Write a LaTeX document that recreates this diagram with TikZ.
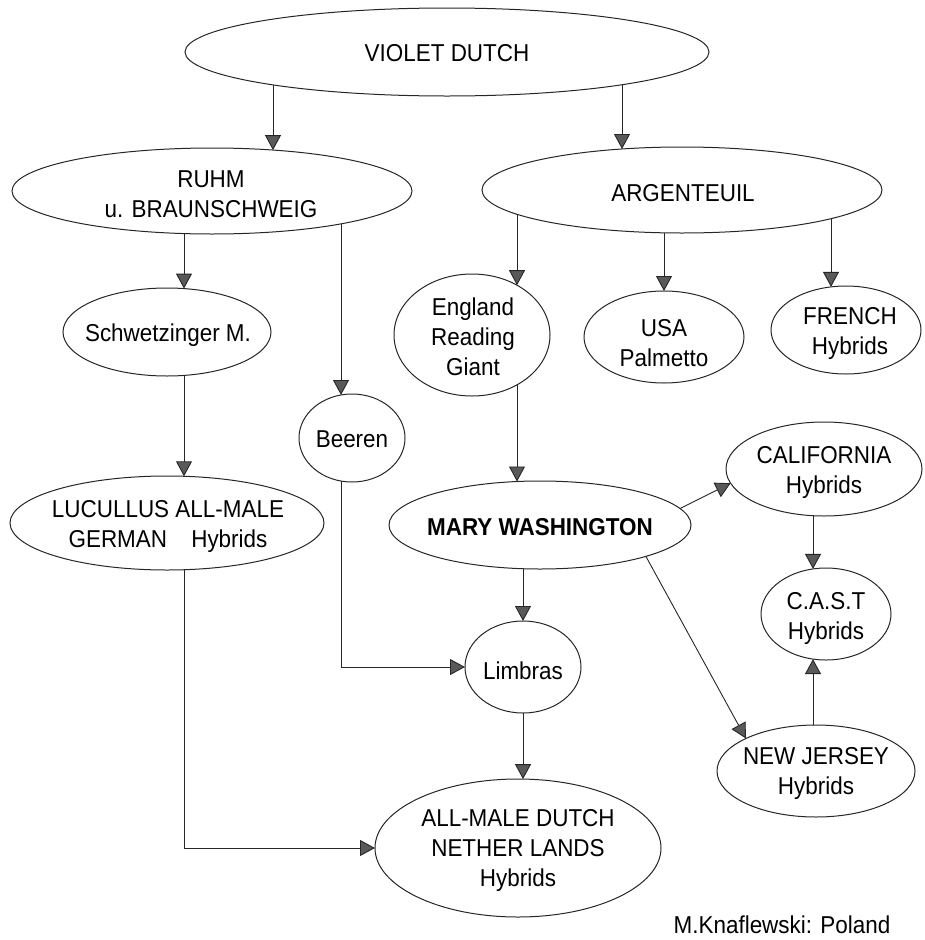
\documentclass[tikz,border=0pt]{standalone}
\usepackage{fontspec}
\setmainfont{Liberation Sans}[FakeStretch=0.92]
\usetikzlibrary{arrows.meta,shapes.geometric,calc}
\begin{document}
\begin{tikzpicture}[x=1pt,y=-1pt,
  ell/.style={draw=black!85, line width=1pt, ellipse, inner sep=0pt, outer sep=0pt},
  lbl/.style={font=\fontsize{24.4}{30}\selectfont, align=center, inner sep=0pt},
  arr/.style={draw=black!85, line width=0.9pt, -{Triangle[width=16pt,length=15pt,fill=black!65]}}]
\useasboundingbox (0,0) rectangle (924,940);
% ellipses
\node[ell, minimum width=524pt, minimum height=88pt]  (vd)   at (447,52)  {};
\node[ell, minimum width=400pt, minimum height=86pt]  (ruhm) at (212,191) {};
\node[ell, minimum width=400pt, minimum height=86pt]  (arg)  at (682,190) {};
\node[ell, minimum width=208pt, minimum height=88pt]  (schw) at (167,332) {};
\node[ell, minimum width=106pt, minimum height=88pt]  (beer) at (352,438) {};
\node[ell, minimum width=156pt, minimum height=122pt] (eng)  at (472,335) {};
\node[ell, minimum width=160pt, minimum height=92pt]  (usa)  at (664,337) {};
\node[ell, minimum width=150pt, minimum height=88pt]  (fr)   at (846,330) {};
\node[ell, minimum width=314pt, minimum height=94pt]  (luc)  at (167,523) {};
\node[ell, minimum width=302pt, minimum height=88pt]  (mary) at (540,525) {};
\node[ell, minimum width=196pt, minimum height=94pt]  (cal)  at (824,469) {};
\node[ell, minimum width=130pt, minimum height=92pt]  (cast) at (826,614) {};
\node[ell, minimum width=116pt, minimum height=92pt]  (lim)  at (523,667) {};
\node[ell, minimum width=198pt, minimum height=92pt]  (nj)   at (816,771) {};
\node[ell, minimum width=286pt, minimum height=138pt] (am)   at (518,848) {};
% texts
\node[lbl] (vd-t)   at (447,53)  {VIOLET DUTCH};
\node[lbl] (ruhm-t) at (211,194) {RUHM\\u. BRAUNSCHWEIG};
\node[lbl] (arg-t)  at (683,193) {ARGENTEUIL};
\node[lbl] (schw-t) at (168,335) {Schwetzinger M.};
\node[lbl] (beer-t) at (352,439) {Beeren};
\node[lbl] (eng-t)  at (473,337) {England\\Reading\\Giant};
\node[lbl] (usa-t)  at (664,343) {USA\\Palmetto};
\node[lbl] (fr-t)   at (850,334) {FRENCH\\Hybrids};
\node[lbl] (luc-t)  at (168,527) {LUCULLUS ALL-MALE\\GERMAN \hspace{18pt}Hybrids};
\node[lbl, font=\fontsize{24.4}{30}\selectfont\bfseries] (mary-t) at (540,527) {MARY WASHINGTON};
\node[lbl] (cal-t)  at (824,473) {CALIFORNIA\\Hybrids};
\node[lbl] (cast-t) at (826,619) {C.A.S.T\\Hybrids};
\node[lbl] (lim-t)  at (523,671) {Limbras};
\node[lbl] (nj-t)   at (816,774) {NEW JERSEY\\Hybrids};
\node[lbl] (am-t)   at (518,851) {ALL-MALE DUTCH\\NETHER LANDS\\Hybrids};
\node[lbl] (sig)    at (782,925) {M.Knaflewski: Poland};
% connectors
\draw[arr] ($(vd)+(-174,32.9)$) -- ($(ruhm)+(61,-40.9)$);
\draw[arr] ($(vd)+(175,32.8)$) -- ($(arg)+(-60,-41.0)$);
\draw[arr] ($(ruhm)+(-28,42.6)$) -- ($(schw)+(17,-43.4)$);
\draw[arr] ($(schw)+(17,43.4)$) -- ($(luc)+(17,-46.7)$);
\draw[arr] ($(ruhm)+(129,32.9)$) -- ($(beer)+(-11,-43.0)$);
\draw[arr] ($(beer)+(-11,43.0)$) |- (lim.west);
\draw[arr] ($(arg)+(-165,24.3)$) -- ($(eng)+(45,-49.8)$);
\draw[arr] ($(arg)+(-18,42.8)$) -- (usa.north);
\draw[arr] ($(arg)+(149,28.7)$) -- ($(fr)+(-15,-43.1)$);
\draw[arr] ($(eng)+(45,49.8)$) -- ($(mary)+(-23,-43.5)$);
\draw[arr] ($(mary)+(-17,43.7)$) -- (lim.north);
\draw[arr] (lim.south) -- ($(am)+(5,-68.9)$);
\draw[arr] ($(mary)+(140,-16.5)$) -- ($(cal)+(-93.4,14.2)$);
\draw[arr] ($(mary)+(105.9,31.4)$) -- ($(nj)+(-70.2,-32.6)$);
\draw[arr] ($(cal)+(-11,46.7)$) -- ($(cast)+(-13,-45.1)$);
\draw[arr] ($(nj)+(-3,-45.9)$) -- ($(cast)+(-13,45.1)$);
\draw[arr] ($(luc)+(17,46.7)$) |- (am.west);
\end{tikzpicture}
\end{document}
